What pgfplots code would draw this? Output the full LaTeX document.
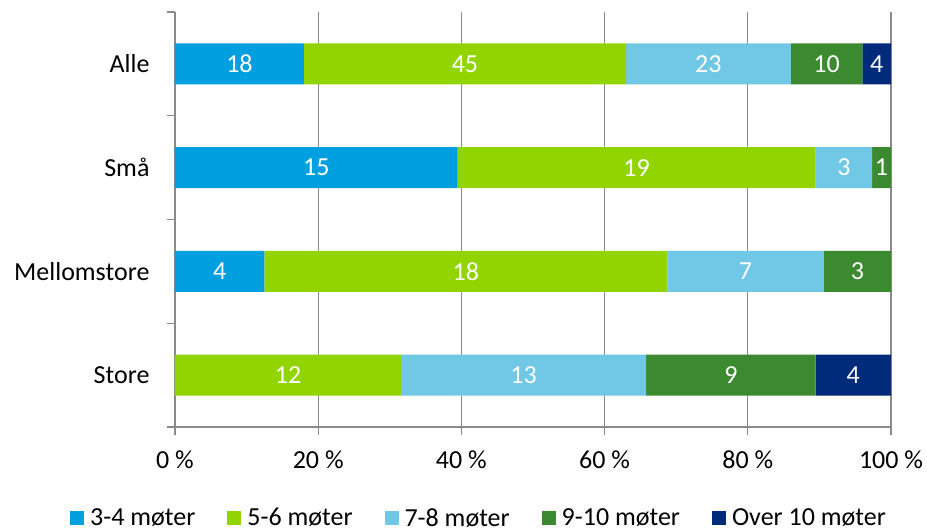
\documentclass[border=0pt]{standalone}
\usepackage{pgfplots}
\usepackage{pgfplotstable}
\pgfplotsset{compat=1.18}
\usepackage{fontspec}
\setmainfont{Carlito}
\definecolor{cA}{HTML}{009FDF}
\definecolor{cB}{HTML}{92D400}
\definecolor{cC}{HTML}{71C7E6}
\definecolor{cD}{HTML}{3B8A30}
\definecolor{cE}{HTML}{002A7A}
\definecolor{gridgray}{HTML}{8A8A8A}
\newcommand{\bigf}{\fontsize{26}{30}\selectfont}
% y: 3=Alle, 2=Små, 1=Mellomstore, 0=Store; pct = share of row; end = cumulative end; n = count
\pgfplotstableread{
y pct end n
3 18 18 18
2 39.474 39.474 15
1 12.5 12.5 4
0 0 0 {}
}\tA
\pgfplotstableread{
y pct end n
3 45 63 45
2 50.0 89.474 19
1 56.25 68.75 18
0 31.579 31.579 12
}\tB
\pgfplotstableread{
y pct end n
3 23 86 23
2 7.895 97.368 3
1 21.875 90.625 7
0 34.211 65.789 13
}\tC
\pgfplotstableread{
y pct end n
3 10 96 10
2 2.632 100 1
1 9.375 100 3
0 23.684 89.474 9
}\tD
\pgfplotstableread{
y pct end n
3 4 100 4
2 0 100 {}
1 0 100 {}
0 10.526 100 4
}\tE
\pgfplotsset{common/.style={
  scale only axis, width=716pt, height=415pt,
  xmin=0, xmax=100, ymin=-0.5, ymax=3.5}}
\begin{document}
\begin{tikzpicture}
\begin{axis}[
  common,
  xbar stacked, bar width=41pt,
  xtick={0,20,40,60,80,100},
  xticklabels={0\ \%,20\ \%,40\ \%,60\ \%,80\ \%,100\ \%},
  ytick={-0.5,0.5,1.5,2.5,3.5}, yticklabels={},
  extra y ticks={0,1,2,3},
  extra y tick labels={Store,Mellomstore,Små,Alle},
  extra y tick style={major tick length=0pt},
  axis x line*=bottom, axis y line*=left,
  axis line style={draw=gridgray, line width=1.3pt, -},
  xmajorgrids, grid style={gridgray, line width=1.3pt},
  tick style={gridgray, line width=1.3pt},
  major tick length=8pt,
  tick align=outside,
  tick label style={font=\bigf, text=black},
  yticklabel style={xshift=-22pt},
  xticklabel style={yshift=-12pt},
  legend style={at={(0.4246,-0.219)}, anchor=center, draw=none, font=\bigf,
    /tikz/every odd column/.append style={column sep=4pt},
    /tikz/every even column/.append style={column sep=30pt}},
  legend columns=5,
  legend image code/.code={\fill[#1] (0pt,-7pt) rectangle (14pt,7pt);},
]
\addplot[fill=cA, draw=none] table[x=pct, y=y] {\tA};
\addplot[fill=cB, draw=none] table[x=pct, y=y] {\tB};
\addplot[fill=cC, draw=none] table[x=pct, y=y] {\tC};
\addplot[fill=cD, draw=none] table[x=pct, y=y] {\tD};
\addplot[fill=cE, draw=none] table[x=pct, y=y] {\tE};
\legend{3-4 møter,5-6 møter,7-8 møter,9-10 møter,Over 10 møter}
\end{axis}
\begin{axis}[
  common, hide axis,
  point meta=explicit symbolic,
  nodes near coords,
  every node near coord/.append style={anchor=center, text=white, font=\bigf},
]
\addplot[only marks, mark=none] table[x expr=\thisrow{end}-\thisrow{pct}/2, y=y, meta=n] {\tA};
\addplot[only marks, mark=none] table[x expr=\thisrow{end}-\thisrow{pct}/2, y=y, meta=n] {\tB};
\addplot[only marks, mark=none] table[x expr=\thisrow{end}-\thisrow{pct}/2, y=y, meta=n] {\tC};
\addplot[only marks, mark=none] table[x expr=\thisrow{end}-\thisrow{pct}/2, y=y, meta=n] {\tD};
\addplot[only marks, mark=none] table[x expr=\thisrow{end}-\thisrow{pct}/2, y=y, meta=n] {\tE};
\end{axis}
\path ([xshift=-175pt,yshift=-105pt]current axis.south west) rectangle ([xshift=36pt,yshift=12pt]current axis.north east);
\end{tikzpicture}
\end{document}
